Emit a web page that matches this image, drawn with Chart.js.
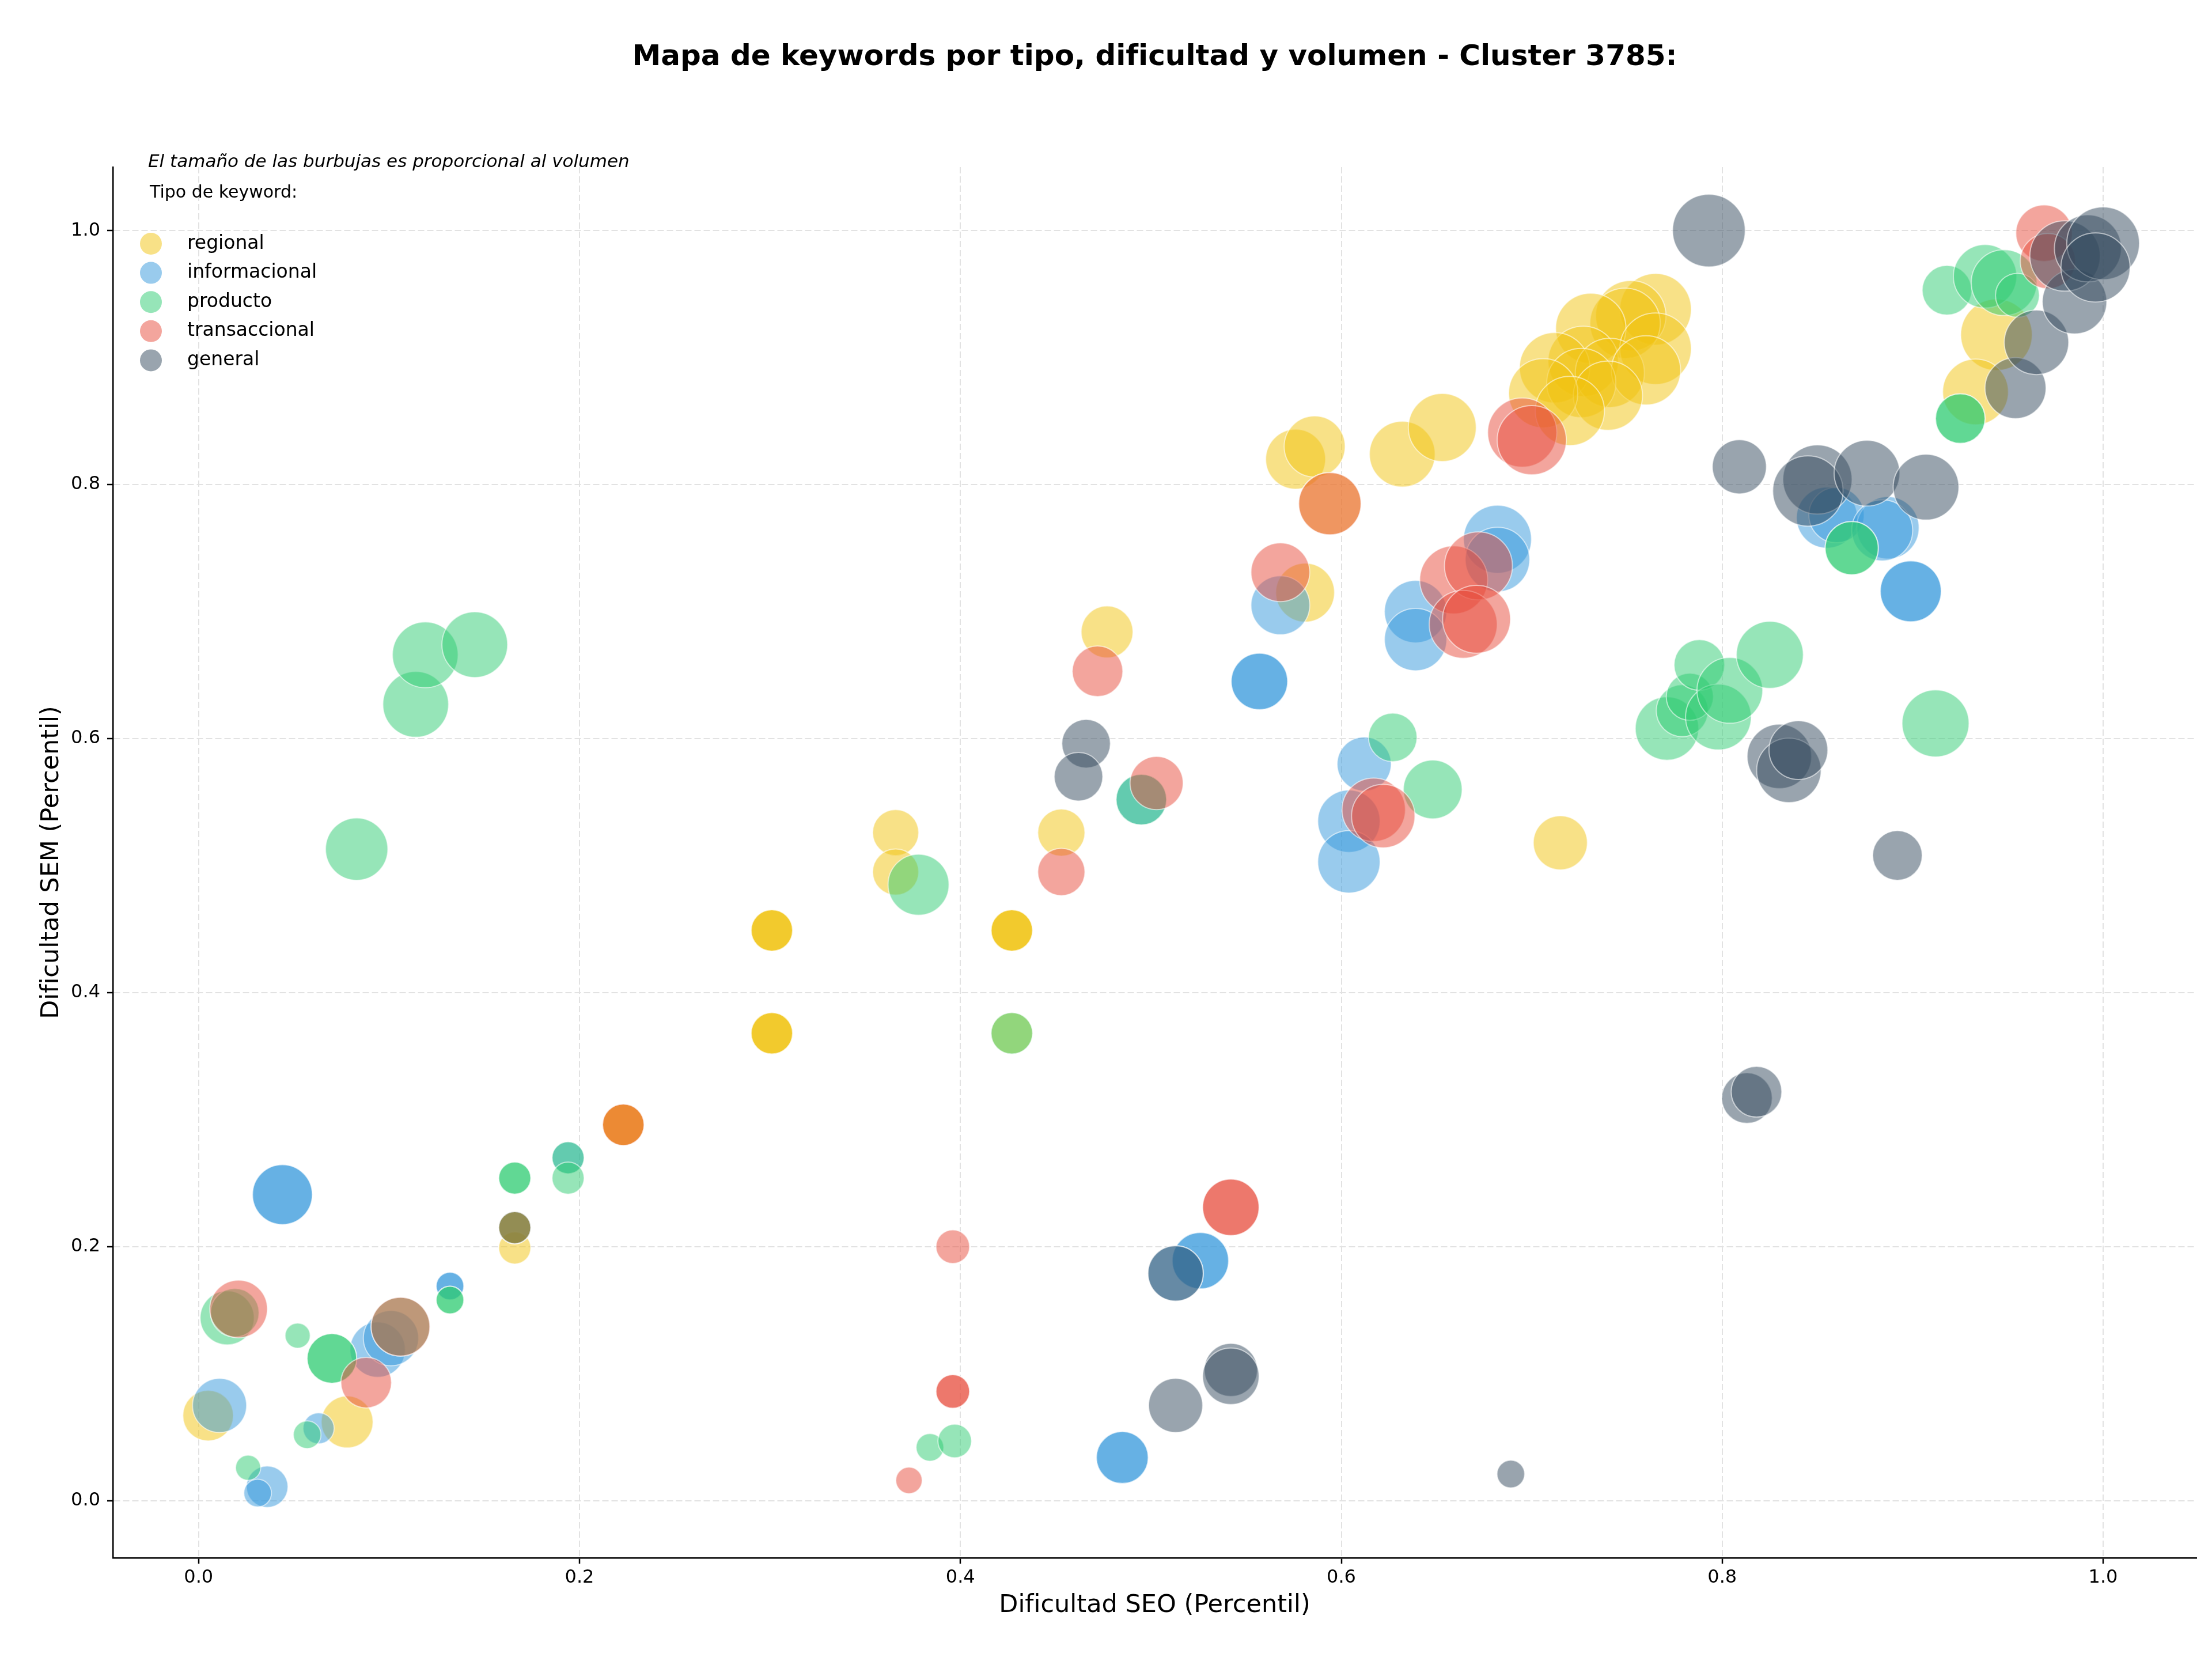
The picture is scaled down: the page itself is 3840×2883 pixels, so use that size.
<!DOCTYPE html>
<html lang="es">
<head>
<meta charset="utf-8">
<title>Mapa de keywords - Cluster 3785</title>
<script src="https://cdn.jsdelivr.net/npm/chart.js@4.4.1/dist/chart.umd.min.js"></script>
<style>
  html, body { margin: 0; padding: 0; background: #fff; }
  canvas { display: block; }
</style>
</head>
<body>
<canvas id="mapa" width="3840" height="2883"></canvas>
<script>
// datos: percentil SEO (x), percentil SEM (y), volumen (tamaño burbuja)
const tipos = ['regional', 'informacional', 'producto', 'transaccional', 'general'];
const colores = ['#f1c40f', '#3498db', '#2ecc71', '#e74c3c', '#34495e'];
const ticksPercentil = [0, 0.2, 0.4, 0.6, 0.8, 1.0];

const titulo = 'Mapa de keywords por tipo, dificultad y volumen - Cluster 3785:';
const nota = 'El tamaño de las burbujas es proporcional al volumen';

const regionalSEO = [0.005, 0.078, 0.166, 0.166, 0.166, 0.223, 0.223, 0.223, 0.301, 0.301, 0.301, 0.301, 0.301,
  0.301, 0.427, 0.427, 0.427, 0.427, 0.366, 0.366, 0.453, 0.477, 0.581, 0.576, 0.586, 0.594, 0.632, 0.653, 0.715,
  0.765, 0.752, 0.749, 0.731, 0.765, 0.727, 0.712, 0.741, 0.760, 0.726, 0.740, 0.706, 0.720, 0.944, 0.933];
const regionalSEM = [0.067, 0.062, 0.199, 0.215, 0.215, 0.296, 0.296, 0.296, 0.449, 0.449, 0.449, 0.368, 0.368,
  0.368, 0.449, 0.449, 0.449, 0.368, 0.526, 0.495, 0.526, 0.684, 0.715, 0.820, 0.830, 0.785, 0.824, 0.845, 0.518,
  0.938, 0.933, 0.927, 0.923, 0.907, 0.897, 0.892, 0.888, 0.890, 0.880, 0.870, 0.872, 0.858, 0.918, 0.873];
const regionalVol = [7700, 8100, 3100, 3100, 3100, 5200, 5200, 5200, 5200, 5200, 5200, 5200, 5200,
  5200, 5200, 5200, 5200, 5200, 6400, 6400, 6700, 8100, 10400, 10800, 11200, 11700, 13000, 13900, 8800,
  15400, 14900, 14900, 14900, 15400, 14900, 14900, 14400, 14400, 14400, 14400, 14400, 14400, 15400, 13000];

const informacionalSEO = [0.011, 0.036, 0.031, 0.044, 0.044, 0.063, 0.094, 0.101, 0.132, 0.132, 0.194, 0.495,
  0.485, 0.485, 0.526, 0.526, 0.513, 0.557, 0.557, 0.568, 0.604, 0.604, 0.612, 0.639, 0.639, 0.682, 0.682,
  0.855, 0.860, 0.887, 0.884, 0.899, 0.899];
const informacionalSEM = [0.075, 0.011, 0.006, 0.241, 0.241, 0.057, 0.119, 0.128, 0.169, 0.169, 0.270, 0.552,
  0.034, 0.034, 0.189, 0.189, 0.179, 0.645, 0.645, 0.705, 0.535, 0.503, 0.580, 0.700, 0.678, 0.757, 0.741,
  0.774, 0.776, 0.766, 0.764, 0.716, 0.716];
const informacionalVol = [8800, 5200, 2300, 10800, 10800, 2900, 9200, 9200, 2300, 2300, 3100, 7700,
  8100, 8100, 9600, 9600, 9200, 9600, 9600, 10400, 11700, 11700, 8800, 11700, 11700, 13900, 12500,
  11200, 9200, 11700, 11200, 11200, 11200];

const productoSEO = [0.015, 0.019, 0.026, 0.052, 0.057, 0.070, 0.070, 0.083, 0.106, 0.114, 0.119, 0.145, 0.132,
  0.132, 0.166, 0.166, 0.194, 0.194, 0.384, 0.397, 0.378, 0.427, 0.495, 0.627, 0.648, 0.771, 0.779, 0.783,
  0.788, 0.798, 0.804, 0.825, 0.868, 0.868, 0.912, 0.925, 0.925, 0.918, 0.938, 0.948, 0.955];
const productoSEM = [0.144, 0.148, 0.026, 0.130, 0.052, 0.112, 0.112, 0.513, 0.137, 0.627, 0.666, 0.674, 0.158,
  0.158, 0.254, 0.254, 0.270, 0.254, 0.042, 0.047, 0.485, 0.368, 0.552, 0.601, 0.560, 0.608, 0.622, 0.633,
  0.658, 0.617, 0.638, 0.666, 0.750, 0.750, 0.612, 0.852, 0.852, 0.953, 0.964, 0.959, 0.949];
const productoVol = [8800, 7100, 1900, 1900, 2300, 7400, 7400, 11700, 10400, 13000, 13000, 13000, 2300,
  2300, 3100, 3100, 3100, 3100, 2300, 3400, 11200, 5200, 7700, 7100, 10400, 12100, 8100, 6700,
  7700, 13000, 13000, 13500, 8500, 8500, 13500, 7400, 7400, 7400, 12100, 13000, 5800];

const transaccionalSEO = [0.021, 0.088, 0.106, 0.223, 0.373, 0.396, 0.396, 0.396, 0.453, 0.472, 0.503, 0.542,
  0.542, 0.568, 0.594, 0.617, 0.622, 0.659, 0.672, 0.664, 0.671, 0.695, 0.700, 0.969, 0.971];
const transaccionalSEM = [0.151, 0.093, 0.137, 0.296, 0.016, 0.086, 0.086, 0.200, 0.495, 0.653, 0.565, 0.231,
  0.231, 0.731, 0.785, 0.544, 0.539, 0.725, 0.736, 0.690, 0.694, 0.841, 0.835, 0.998, 0.976];
const transaccionalVol = [10000, 7700, 10400, 5200, 2100, 3400, 3400, 3400, 6700, 7700, 8500, 9600,
  9600, 10400, 11700, 12100, 12100, 13900, 13900, 13900, 13900, 14400, 14400, 9600, 9200];

const generalSEO = [0.166, 0.466, 0.462, 0.513, 0.513, 0.542, 0.542, 0.689, 0.793, 0.809, 0.813, 0.818, 0.850,
  0.845, 0.876, 0.907, 0.830, 0.835, 0.840, 0.892, 0.954, 0.965, 0.985, 0.980, 0.992, 1.000, 0.996];
const generalSEM = [0.215, 0.596, 0.570, 0.179, 0.075, 0.103, 0.098, 0.021, 1.000, 0.814, 0.317, 0.322, 0.804,
  0.795, 0.809, 0.798, 0.586, 0.575, 0.591, 0.508, 0.876, 0.912, 0.944, 0.980, 0.986, 0.990, 0.971];
const generalVol = [3100, 7100, 7100, 9200, 8800, 8500, 9600, 2300, 15900, 8800, 7700, 7700, 14400,
  14900, 13000, 13000, 12500, 12500, 10400, 7400, 11200, 12500, 12500, 14900, 13500, 15900, 14400];

const series = [
  { seo: regionalSEO, sem: regionalSEM, vol: regionalVol },
  { seo: informacionalSEO, sem: informacionalSEM, vol: informacionalVol },
  { seo: productoSEO, sem: productoSEM, vol: productoVol },
  { seo: transaccionalSEO, sem: transaccionalSEM, vol: transaccionalVol },
  { seo: generalSEO, sem: generalSEM, vol: generalVol }
];

function rgba(hex, a) {
  const n = parseInt(hex.slice(1), 16);
  return `rgba(${(n >> 16) & 255}, ${(n >> 8) & 255}, ${n & 255}, ${a})`;
}

// radio de la burbuja proporcional a la raíz del volumen (área ~ volumen)
const radio = v => Math.sqrt(v) / 2;

const datasets = series.map((s, i) => ({
  label: tipos[i],
  data: s.seo.map((x, j) => ({ x, y: s.sem[j], r: radio(s.vol[j]) })),
  backgroundColor: rgba(colores[i], 0.5),
  borderColor: 'rgba(255, 255, 255, 0.55)',
  borderWidth: 2,
  hoverRadius: 0,
  order: tipos.length - i // el último tipo queda encima
}));

// título, nota y leyenda dentro del área, como en el original
const rotulos = {
  id: 'rotulos',
  afterDraw(chart) {
    const ctx = chart.ctx;
    const area = chart.chartArea;
    ctx.save();
    ctx.fillStyle = '#000';
    ctx.textBaseline = 'middle';
    ctx.textAlign = 'center';
    ctx.font = "bold 50px 'DejaVu Sans'";
    ctx.fillText(titulo, (area.left + area.right) / 2, 100);

    ctx.textAlign = 'left';
    ctx.font = "italic 31px 'DejaVu Sans'";
    ctx.fillText(nota, 257, 282);
    ctx.font = "30px 'DejaVu Sans'";
    ctx.fillText('Tipo de keyword:', 260, 335);

    ctx.font = "33px 'DejaVu Sans'";
    tipos.forEach((t, i) => {
      const y = 423 + i * 50.6;
      ctx.beginPath();
      ctx.arc(262, y, 19, 0, Math.PI * 2);
      ctx.fillStyle = rgba(colores[i], 0.5);
      ctx.fill();
      ctx.fillStyle = '#000';
      ctx.fillText(t, 325, y);
    });
    ctx.restore();
  }
};

function ejePercentil(texto, extra) {
  return Object.assign({
    type: 'linear',
    afterBuildTicks: s => { s.ticks = ticksPercentil.map(v => ({ value: v })); },
    ticks: {
      color: '#000',
      font: { size: 32 },
      autoSkip: false,
      maxRotation: 0,
      callback: v => v.toFixed(1)
    },
    grid: {
      color: '#e2e2e2',
      lineWidth: 2,
      tickColor: '#000',
      tickLength: 10,
      tickWidth: 2.5
    },
    border: { display: true, color: '#000', width: 2.5, dash: [11, 5] },
    title: { display: true, text: texto, color: '#000', font: { size: 43 } }
  }, extra);
}

const xEje = ejePercentil('Dificultad SEO (Percentil)', { min: -0.045, max: 1.049 });
xEje.ticks.padding = 5;
xEje.title.padding = { top: 0, bottom: 70 };
xEje.afterFit = s => { s.height = 179; };

const yEje = ejePercentil('Dificultad SEM (Percentil)', { min: -0.045, max: 1.050 });
yEje.ticks.padding = 12;
yEje.title.padding = { top: 64, bottom: 0 };
yEje.afterFit = s => { s.width = 196; };

Chart.defaults.font.family = "'DejaVu Sans', sans-serif";

new Chart(document.getElementById('mapa'), {
  type: 'bubble',
  data: { datasets },
  options: {
    responsive: false,
    devicePixelRatio: 1,
    animation: false,
    layout: { autoPadding: false, padding: { left: 0, right: 27, top: 290, bottom: 0 } },
    scales: { x: xEje, y: yEje },
    plugins: {
      legend: { display: false },
      title: { display: false },
      tooltip: { enabled: false }
    }
  },
  plugins: [rotulos]
});
</script>
</body>
</html>
